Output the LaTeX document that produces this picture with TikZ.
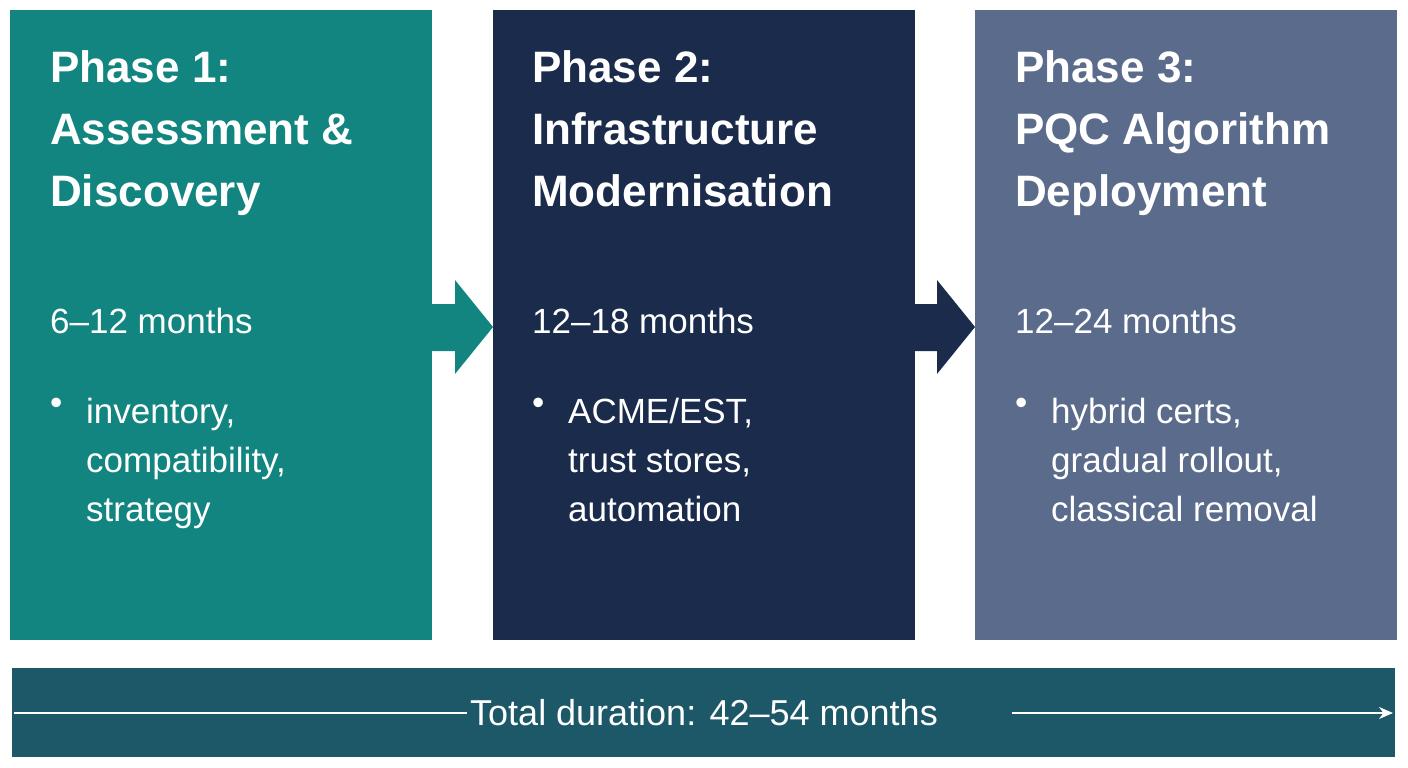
\documentclass[tikz,border=0pt]{standalone}
\usepackage{fontspec}
\setmainfont{Liberation Sans}
\usetikzlibrary{arrows.meta}
\definecolor{cA}{HTML}{138580}
\definecolor{cB}{HTML}{1B2B4B}
\definecolor{cC}{HTML}{5A6B8C}
\definecolor{cBar}{HTML}{1D5868}
\tikzset{x=1pt,y=-1pt,
 phase/.style={anchor=north west,minimum width=422pt,minimum height=630pt,inner sep=0pt,draw=none},
 head/.style={anchor=north west,text=white,font=\fontsize{44}{62}\selectfont\bfseries,align=left,inner sep=0pt},
 dur/.style={anchor=north west,text=white,font=\fontsize{35}{42}\selectfont,inner sep=0pt},
 bul/.style={anchor=north west,text=white,font=\fontsize{35}{49}\selectfont,align=left,inner sep=0pt},
 parrow/.style={draw=none}}
\begin{document}
\begin{tikzpicture}
\useasboundingbox[fill=white] (0,0) rectangle (1408,768);
\node[phase,fill=cA] (p1) at (10,10) {};
\node[phase,fill=cB] (p2) at (493,10) {};
\node[phase,fill=cC] (p3) at (975,10) {};
% arrows
\fill[cA] (432,304) -- (455,304) -- (455,280) -- (493,327) -- (455,374) -- (455,351) -- (432,351) -- cycle;
\fill[cB] (915,304) -- (937,304) -- (937,280) -- (975,327) -- (937,374) -- (937,351) -- (915,351) -- cycle;
% texts
\foreach \p/\x/\h/\d/\b in {1/50/{Phase 1:\\Assessment \&\\Discovery}/{6--12 months}/{inventory,\\compatibility,\\strategy},
  2/532/{Phase 2:\\Infrastructure\\Modernisation}/{12--18 months}/{ACME/EST,\\trust stores,\\automation},
  3/1015/{Phase 3:\\PQC Algorithm\\Deployment}/{12--24 months}/{hybrid certs,\\gradual rollout,\\classical removal}}{
  \node[head] (h\p) at (\x,50) {\h};
  \node[dur] (d\p) at (\x,308) {\d};
  \node[bul] (bb\p) at (\x,398) {\textbullet};
  \node[bul] (b\p) at (\x+36,398) {\b};
}
% bottom bar
\node[anchor=north west,fill=cBar,minimum width=1383pt,minimum height=89pt,inner sep=0pt] (bar) at (12,668) {};
\node[text=white,font=\fontsize{36}{40}\selectfont] (tot) at (704,713) {Total duration: 42--54 months};
\coordinate (l0) at (14,713);
\coordinate (r1) at (1393,713);
\draw[white,line width=2pt] (l0) -- (tot.west) ++(-30,0);
\draw[white,line width=2pt] (l0) -- (395,713);
\draw[white,line width=2pt,-{Stealth[length=14pt,width=12pt]}] (1012,713) -- (r1);
\end{tikzpicture}
\end{document}
